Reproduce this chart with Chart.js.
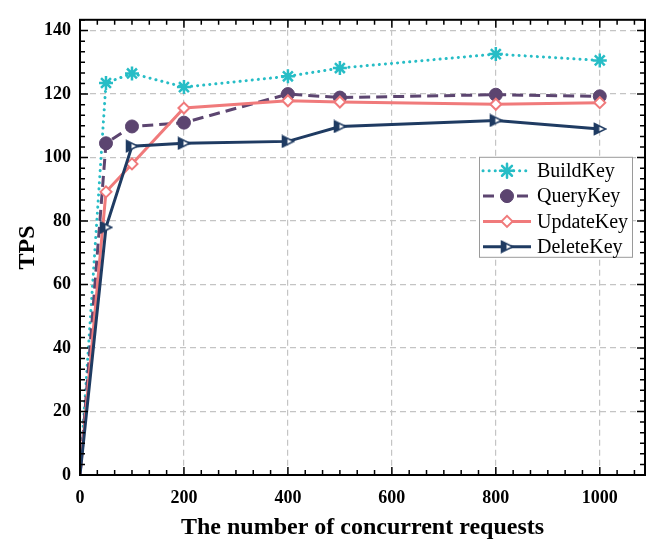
<!DOCTYPE html>
<html>
<head>
<meta charset="utf-8">
<script src="https://cdn.jsdelivr.net/npm/chart.js@4/dist/chart.umd.min.js"></script>
<style>
  html, body { margin: 0; padding: 0; background: #fff; }
  canvas { display: block; }
</style>
</head>
<body>
<canvas id="tpsChart" width="646" height="543"></canvas>
<script>
// concurrent requests (x) and TPS per operation
const requests = [0, 50, 100, 200, 400, 500, 800, 1000];
const buildKey  = [0, 123.5, 126.5, 122.2, 125.6, 128.2, 132.6, 130.6];
const queryKey  = [0, 104.5, 109.8, 111.0, 120.0, 118.9, 119.8, 119.3];
const updateKey = [0, 89.2, 98.0, 115.6, 117.9, 117.5, 116.8, 117.3];
const deleteKey = [0, 78.0, 103.6, 104.5, 105.1, 109.8, 111.7, 109.0];
const seriesNames = ['BuildKey', 'QueryKey', 'UpdateKey', 'DeleteKey'];

const xTickStep = 200;
const yTickStep = 20;

const serif = '"Liberation Serif", "Times New Roman", serif';

// half filled triangle pointing right
function triMarker(col) {
    const c = document.createElement('canvas');
    c.width = 14; c.height = 14;
    const g = c.getContext('2d');
    g.lineJoin = 'miter';
    g.beginPath();
    g.moveTo(1.5, 1.5); g.lineTo(12.8, 7); g.lineTo(1.5, 12.5); g.closePath();
    g.fillStyle = '#fff';
    g.fill();
    g.beginPath();
    g.moveTo(1.5, 1.5); g.lineTo(6.5, 3.9); g.lineTo(6.5, 10.1); g.lineTo(1.5, 12.5); g.closePath();
    g.fillStyle = col;
    g.fill();
    g.beginPath();
    g.moveTo(1.5, 1.5); g.lineTo(12.8, 7); g.lineTo(1.5, 12.5); g.closePath();
    g.strokeStyle = col;
    g.lineWidth = 1.5;
    g.stroke();
    return c;
}

const teal = '#27bdc6';
const purple = '#5c4570';
const salmon = '#f07a7b';
const navy = '#1f3b62';

const pts = arr => arr.map((v, i) => ({ x: requests[i], y: v }));
const hideFirst = r => ctx => ctx.dataIndex === 0 ? 0 : r;

const datasets = [
    {
        label: seriesNames[0], data: pts(buildKey),
        borderColor: teal, backgroundColor: teal,
        borderWidth: 3, borderDash: [0.1, 6], borderCapStyle: 'round',
        pointStyle: 'star', pointRadius: hideFirst(7), pointBorderWidth: 2.5,
        pointBorderColor: teal, pointBackgroundColor: teal, order: 4
    },
    {
        label: seriesNames[1], data: pts(queryKey),
        borderColor: purple, backgroundColor: purple,
        borderWidth: 3, borderDash: [11, 6],
        pointStyle: 'circle', pointRadius: hideFirst(6.5), pointBorderWidth: 1,
        pointBorderColor: purple, pointBackgroundColor: purple, order: 3
    },
    {
        label: seriesNames[2], data: pts(updateKey),
        borderColor: salmon, backgroundColor: '#fff',
        borderWidth: 3,
        pointStyle: 'rectRot', pointRadius: hideFirst(5.5), pointBorderWidth: 2,
        pointBorderColor: salmon, pointBackgroundColor: '#fff', order: 2
    },
    {
        label: seriesNames[3], data: pts(deleteKey),
        borderColor: navy, backgroundColor: navy,
        borderWidth: 3,
        pointStyle: triMarker(navy), pointRadius: hideFirst(7), pointBorderWidth: 0,
        order: 1
    }
];

// frame, inward ticks and the boxed legend
const framePlugin = {
    id: 'frame',
    afterDraw(chart) {
        const { ctx, chartArea: a, scales: { x, y } } = chart;
        ctx.save();
        ctx.strokeStyle = '#000';
        ctx.lineWidth = 2;
        ctx.strokeRect(a.left, a.top, a.right - a.left, a.bottom - a.top);

        ctx.lineWidth = 1.5;
        ctx.beginPath();
        for (let v = 0; v <= x.max + 0.01; v += xTickStep / 6) {
            const px = x.getPixelForValue(v);
            const major = Math.abs(v / xTickStep - Math.round(v / xTickStep)) < 1e-6;
            const len = major ? 8 : 5;
            ctx.moveTo(px, a.bottom); ctx.lineTo(px, a.bottom - len);
            ctx.moveTo(px, a.top); ctx.lineTo(px, a.top + len);
        }
        for (let v = 0; v <= y.max + 0.01; v += yTickStep / 6) {
            const py = y.getPixelForValue(v);
            const major = Math.abs(v / yTickStep - Math.round(v / yTickStep)) < 1e-6;
            const len = major ? 8 : 5;
            ctx.moveTo(a.left, py); ctx.lineTo(a.left + len, py);
            ctx.moveTo(a.right, py); ctx.lineTo(a.right - len, py);
        }
        ctx.stroke();

        // legend
        const bx = a.right - 166, by = a.top + 137, bw = 153, bh = 100;
        ctx.fillStyle = '#fff';
        ctx.fillRect(bx, by, bw, bh);
        ctx.strokeStyle = '#9a9a9a';
        ctx.lineWidth = 1;
        ctx.strokeRect(bx + 0.5, by + 0.5, bw, bh);
        ctx.font = '20px ' + serif;
        ctx.textBaseline = 'middle';
        chart.data.datasets.forEach((ds, i) => {
            const cy = by + 14 + i * 25.3;
            ctx.save();
            ctx.strokeStyle = ds.borderColor;
            ctx.lineWidth = ds.borderWidth;
            ctx.lineCap = ds.borderCapStyle || 'butt';
            ctx.setLineDash(ds.borderDash || []);
            ctx.beginPath();
            ctx.moveTo(bx + 4, cy); ctx.lineTo(bx + 52, cy);
            ctx.stroke();
            ctx.setLineDash([]);
            ctx.fillStyle = ds.pointBackgroundColor || '#fff';
            ctx.strokeStyle = ds.pointBorderColor || ds.borderColor;
            ctx.lineWidth = ds.pointBorderWidth;
            Chart.helpers.drawPoint(ctx, {
                pointStyle: ds.pointStyle,
                radius: ds.pointRadius({ dataIndex: 1 }),
                rotation: 0,
                borderWidth: ds.pointBorderWidth
            }, bx + 28, cy);
            ctx.restore();
            ctx.fillStyle = '#000';
            ctx.fillText(ds.label, bx + 58, cy + 1);
        });
        ctx.restore();
    }
};

new Chart(document.getElementById('tpsChart'), {
    type: 'line',
    data: { datasets },
    options: {
        responsive: false,
        animation: false,
        layout: { autoPadding: false, padding: { top: 14, right: 1, left: 0, bottom: 0 } },
        plugins: { legend: { display: false }, tooltip: { enabled: false } },
        elements: { line: { tension: 0 } },
        scales: {
            x: {
                type: 'linear', min: 0, max: 1087,
                afterFit: s => { s.height = 68; },
                ticks: {
                    stepSize: xTickStep, includeBounds: false, padding: 13,
                    callback: v => String(v),
                    color: '#000', font: { family: serif, size: 18, weight: 'bold' }
                },
                grid: { color: '#c4c4c4', lineWidth: 1.2, drawTicks: false },
                border: { display: false, dash: [6, 4] },
                title: {
                    display: true, text: 'The number of concurrent requests',
                    color: '#000', font: { family: serif, size: 24, weight: 'bold' },
                    padding: { top: 0, bottom: 1 }
                }
            },
            y: {
                min: 0, max: 143.4,
                afterFit: s => { s.width = 80; },
                ticks: {
                    stepSize: yTickStep, includeBounds: false, padding: 9,
                    color: '#000', font: { family: serif, size: 18, weight: 'bold' }
                },
                grid: { color: '#c4c4c4', lineWidth: 1.2, drawTicks: false },
                border: { display: false, dash: [6, 4] },
                title: {
                    display: true, text: 'TPS',
                    color: '#000', font: { family: serif, size: 24, weight: 'bold' },
                    padding: { top: 13, bottom: 0 }
                }
            }
        }
    },
    plugins: [framePlugin]
});
</script>
</body>
</html>
